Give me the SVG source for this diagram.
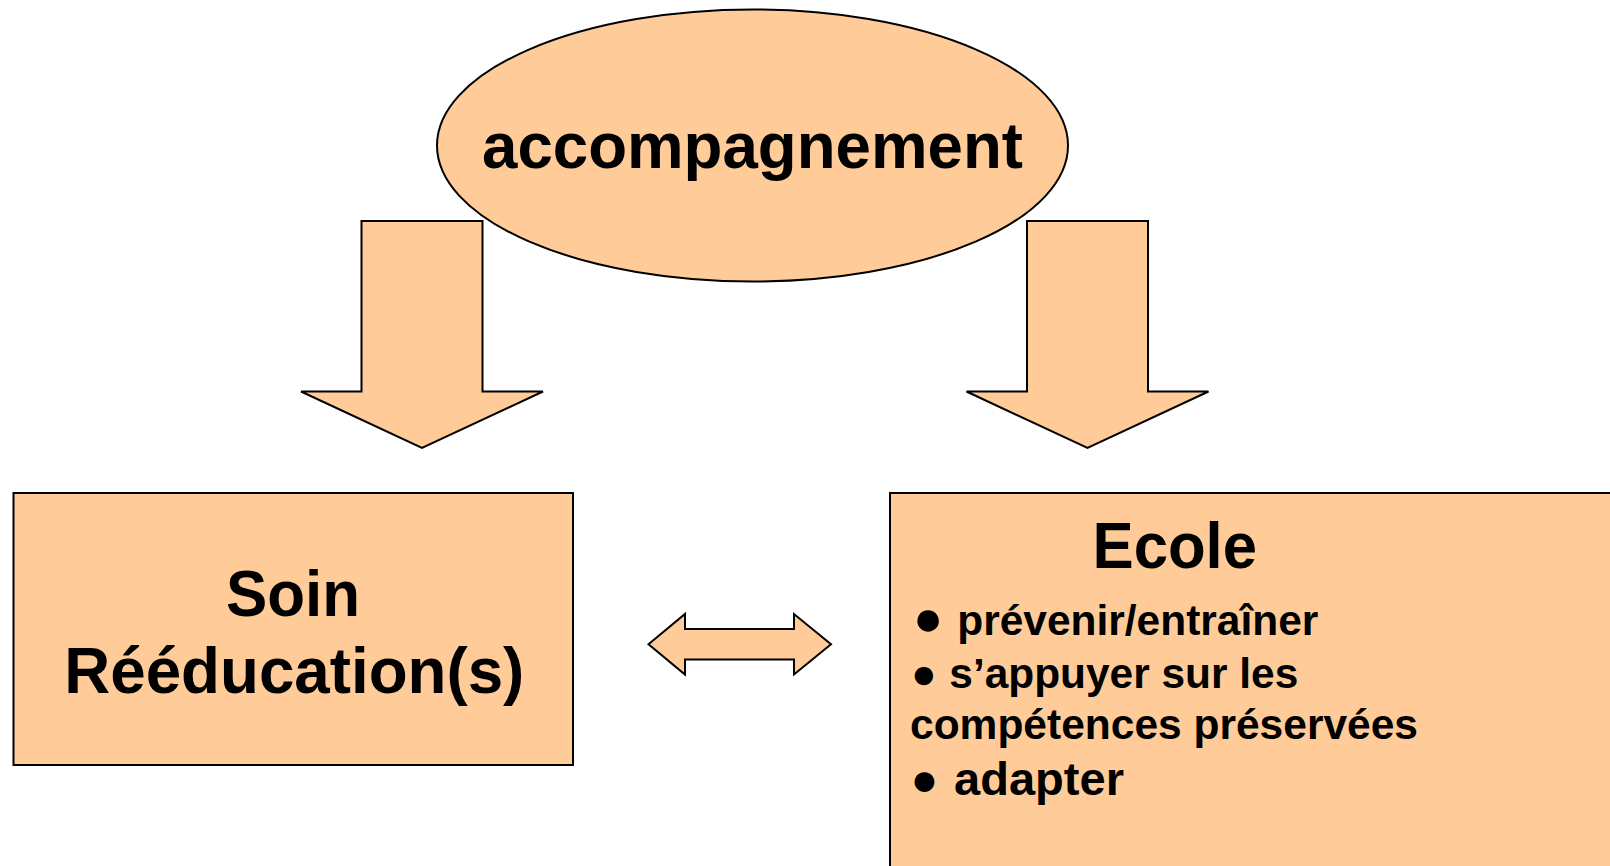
<svg xmlns="http://www.w3.org/2000/svg" width="1610" height="866" viewBox="0 0 1610 866">
<style>
.shape{fill:#FFCC99;stroke:#000;stroke-width:2;stroke-linejoin:miter}
.t{font-family:"Liberation Sans",Arial,sans-serif;font-weight:bold;fill:#000}
</style>
<rect width="1610" height="866" fill="#fff"/>
<g id="connectors">
<path class="shape" d="M361.5,221 H482.5 V391.5 H543 L422,448 L301,391.5 H361.5 Z"/>
<path class="shape" d="M1027,221 H1148 V391.5 H1208.5 L1087.5,448 L966.5,391.5 H1027 Z"/>
<path class="shape" d="M648.5,644.3 L685,614 V629 H794 V614 L831,644.3 L794,674.5 V659.5 H685 V674.5 Z"/>
</g>
<g id="accompagnement">
<ellipse class="shape" cx="752.5" cy="145.5" rx="315.5" ry="136" stroke-width="1.6"/>
<text class="t" x="752.5" y="168" font-size="64" text-anchor="middle" textLength="541" lengthAdjust="spacingAndGlyphs">accompagnement</text>
</g>
<g id="soin">
<rect class="shape" x="13.5" y="493" width="559.5" height="272"/>
<text class="t" x="293" y="615.5" font-size="64" text-anchor="middle" textLength="134" lengthAdjust="spacingAndGlyphs">Soin</text>
<text class="t" x="294.3" y="693" font-size="64" text-anchor="middle" textLength="460" lengthAdjust="spacingAndGlyphs">Rééducation(s)</text>
</g>
<g id="ecole">
<rect class="shape" x="890" y="493" width="800" height="500"/>
<text class="t" x="1092.5" y="568.3" font-size="64" textLength="164.5" lengthAdjust="spacingAndGlyphs">Ecole</text>
<text class="t" font-size="42.5"><tspan font-size="50" x="913" y="635">●</tspan><tspan x="957.3" y="635" textLength="361" lengthAdjust="spacingAndGlyphs">prévenir/entraîner</tspan></text>
<text class="t" font-size="42.5" y="687.5"><tspan x="911">●</tspan><tspan x="949.3" textLength="349" lengthAdjust="spacingAndGlyphs">s’appuyer sur les</tspan></text>
<text class="t" font-size="42.5" y="739" x="910" textLength="508" lengthAdjust="spacingAndGlyphs">compétences préservées</text>
<text class="t" font-size="46" y="794.5"><tspan x="910.5">●</tspan><tspan font-size="47" x="954" textLength="170" lengthAdjust="spacingAndGlyphs">adapter</tspan></text>
</g>
</svg>
